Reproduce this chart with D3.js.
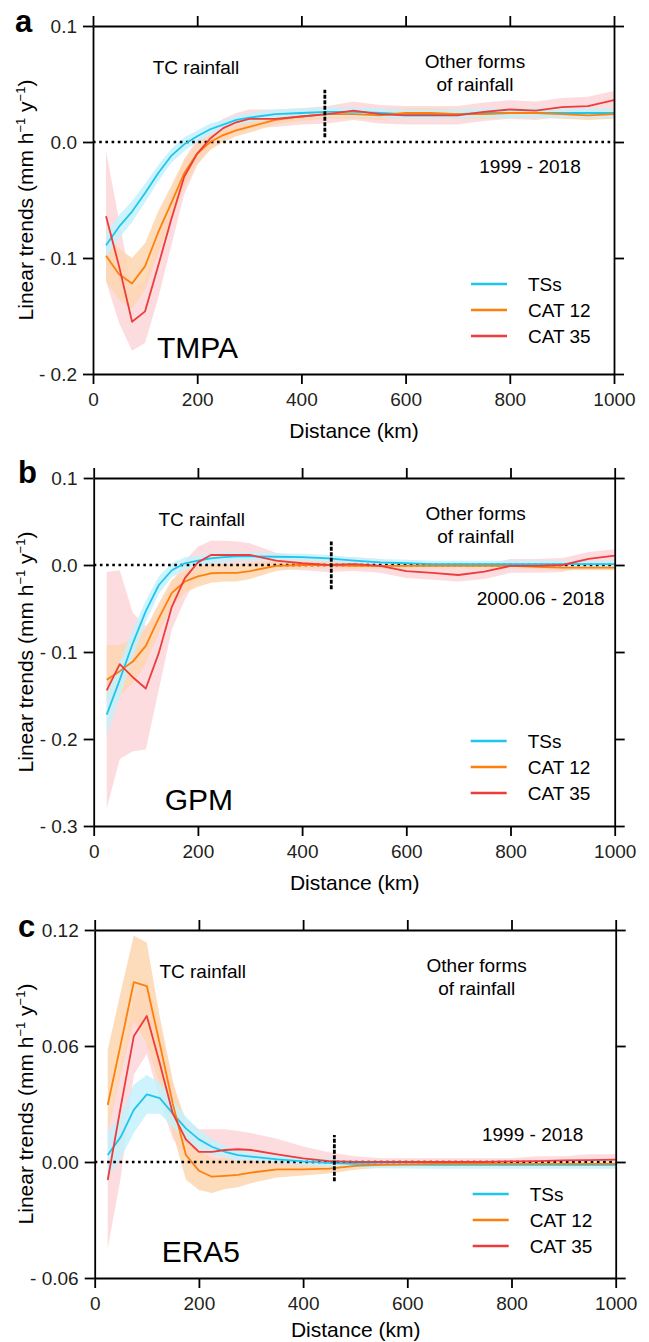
<!DOCTYPE html>
<html>
<head>
<meta charset="utf-8">
<script src="https://cdnjs.cloudflare.com/ajax/libs/d3/7.8.5/d3.min.js"></script>
<style>
  html, body { margin: 0; padding: 0; background: #fff; }
  svg { display: block; }
</style>
</head>
<body>
<svg id="chart" width="649" height="1342"></svg>
<script>
// ---------------- DATA ----------------
const distance = [25,50,75,100,125,150,175,200,225,250,275,300,350,400,450,500,550,600,650,700,750,800,850,900,950,1000];
const seriesNames = ["TSs", "CAT 12", "CAT 35"];
const xTicks = [0, 200, 400, 600, 800, 1000];

// Panel a: TMPA
const tmpaTicks = [0.1, 0.0, -0.1, -0.2];
const tmpaTickLabels = ["0.1", "0.0", "- 0.1", "- 0.2"];
const tmpaTS   = [-0.089,-0.073,-0.060,-0.044,-0.027,-0.012,-0.002,0.005,0.011,0.015,0.019,0.021,0.024,0.025,0.026,0.026,0.025,0.024,0.024,0.024,0.025,0.025,0.025,0.025,0.025,0.025];
const tmpaTSlo = [-0.100,-0.083,-0.069,-0.052,-0.034,-0.018,-0.008,0.000,0.006,0.011,0.015,0.017,0.020,0.021,0.022,0.022,0.021,0.020,0.020,0.020,0.021,0.021,0.021,0.021,0.021,0.021];
const tmpaTShi = [-0.078,-0.063,-0.051,-0.036,-0.020,-0.006,0.004,0.010,0.016,0.019,0.023,0.025,0.028,0.029,0.030,0.030,0.029,0.028,0.028,0.028,0.029,0.029,0.029,0.029,0.029,0.029];
const tmpaC12   = [-0.098,-0.114,-0.122,-0.107,-0.078,-0.053,-0.027,-0.010,0.000,0.006,0.010,0.013,0.019,0.022,0.024,0.024,0.023,0.025,0.025,0.024,0.024,0.025,0.025,0.024,0.023,0.024];
const tmpaC12lo = [-0.120,-0.136,-0.144,-0.127,-0.096,-0.068,-0.039,-0.019,-0.007,0.000,0.005,0.008,0.015,0.018,0.020,0.020,0.019,0.021,0.021,0.020,0.020,0.021,0.021,0.020,0.019,0.020];
const tmpaC12hi = [-0.076,-0.092,-0.100,-0.087,-0.060,-0.038,-0.015,-0.001,0.007,0.012,0.015,0.018,0.023,0.026,0.028,0.028,0.027,0.029,0.029,0.028,0.028,0.029,0.029,0.028,0.027,0.028];
const tmpaC35   = [-0.064,-0.107,-0.155,-0.146,-0.107,-0.067,-0.030,-0.010,0.003,0.012,0.017,0.020,0.020,0.022,0.024,0.027,0.024,0.023,0.023,0.023,0.026,0.028,0.027,0.030,0.031,0.036];
const tmpaC35lo = [-0.120,-0.156,-0.180,-0.173,-0.135,-0.090,-0.045,-0.020,-0.006,0.003,0.008,0.012,0.013,0.015,0.016,0.019,0.016,0.015,0.015,0.015,0.018,0.020,0.019,0.022,0.023,0.028];
const tmpaC35hi = [-0.008,-0.067,-0.127,-0.118,-0.080,-0.045,-0.015,0.003,0.013,0.020,0.025,0.028,0.028,0.029,0.031,0.035,0.032,0.031,0.031,0.031,0.034,0.036,0.035,0.038,0.039,0.044];
const tmpaErr = [445, 0.004, 0.045];

// Panel b: GPM
const gpmTicks = [0.1, 0.0, -0.1, -0.2, -0.3];
const gpmTickLabels = ["0.1", "0.0", "- 0.1", "- 0.2", "- 0.3"];
const gpmTS   = [-0.172,-0.132,-0.090,-0.053,-0.023,-0.006,0.002,0.005,0.0076,0.009,0.010,0.010,0.0095,0.009,0.0076,0.005,0.003,0.002,0.001,0.001,0.001,0.001,0.001,0.001,0.001,0.001];
const gpmTSlo = [-0.196,-0.152,-0.106,-0.065,-0.033,-0.014,-0.005,-0.001,0.0016,0.003,0.005,0.005,0.0055,0.005,0.0036,0.001,-0.001,-0.002,-0.003,-0.003,-0.003,-0.003,-0.003,-0.003,-0.003,-0.003];
const gpmTShi = [-0.148,-0.112,-0.074,-0.041,-0.013,0.002,0.009,0.011,0.0136,0.015,0.015,0.015,0.0135,0.013,0.0116,0.009,0.007,0.006,0.005,0.005,0.005,0.005,0.005,0.005,0.005,0.005];
const gpmC12   = [-0.132,-0.122,-0.111,-0.093,-0.061,-0.032,-0.019,-0.013,-0.0095,-0.009,-0.009,-0.007,-0.001,0.000,0.000,-0.001,-0.001,-0.001,-0.001,-0.001,-0.001,-0.001,-0.002,-0.003,-0.003,-0.003];
const gpmC12lo = [-0.158,-0.150,-0.136,-0.113,-0.078,-0.047,-0.032,-0.025,-0.0205,-0.019,-0.019,-0.016,-0.007,-0.004,-0.004,-0.004,-0.004,-0.004,-0.004,-0.004,-0.004,-0.004,-0.005,-0.006,-0.006,-0.006];
const gpmC12hi = [-0.092,-0.092,-0.086,-0.073,-0.044,-0.017,-0.006,-0.001,0.0015,0.001,0.001,0.002,0.005,0.004,0.004,0.002,0.002,0.002,0.002,0.002,0.002,0.002,0.001,0.000,0.000,0.000];
const gpmC35   = [-0.144,-0.114,-0.129,-0.142,-0.101,-0.048,-0.015,0.003,0.0115,0.0115,0.0115,0.0115,0.005,0.002,0.000,0.001,-0.001,-0.007,-0.009,-0.0115,-0.0076,-0.001,-0.001,0.000,0.007,0.0107];
const gpmC35lo = [-0.280,-0.223,-0.214,-0.212,-0.143,-0.074,-0.040,-0.012,-0.003,-0.002,-0.002,-0.002,-0.004,-0.006,-0.008,-0.007,-0.009,-0.015,-0.017,-0.019,-0.016,-0.009,-0.009,-0.008,-0.001,0.003];
const gpmC35hi = [-0.008,-0.006,-0.055,-0.070,-0.055,-0.020,0.005,0.021,0.028,0.028,0.027,0.025,0.014,0.010,0.008,0.009,0.007,0.001,-0.001,-0.004,0.000,0.007,0.007,0.008,0.015,0.018];
const gpmErr = [456, -0.028, 0.027];

// Panel c: ERA5
const eraTicks = [0.12, 0.06, 0.0, -0.06];
const eraTickLabels = ["0.12", "0.06", "0.00", "- 0.06"];
const eraTS   = [0.0036,0.013,0.027,0.035,0.033,0.025,0.0174,0.0117,0.0079,0.0053,0.0036,0.0028,0.0014,0.0003,-0.0005,-0.001,-0.0012,-0.0014,-0.0015,-0.0015,-0.0015,-0.0015,-0.0015,-0.0015,-0.0015,-0.0015];
const eraTSlo = [-0.0084,0.002,0.015,0.025,0.025,0.018,0.0114,0.0067,0.0039,0.0023,0.0006,0.0008,-0.0006,-0.0017,-0.0025,-0.003,-0.0032,-0.0034,-0.0035,-0.0035,-0.0035,-0.0035,-0.0035,-0.0035,-0.0035,-0.0035];
const eraTShi = [0.0156,0.024,0.040,0.045,0.041,0.032,0.0234,0.0167,0.0119,0.0083,0.0066,0.0048,0.0034,0.0023,0.0015,0.001,0.0008,0.0006,0.0005,0.0005,0.0005,0.0005,0.0005,0.0005,0.0005,0.0005];
const eraC12   = [0.0295,0.061,0.093,0.091,0.061,0.030,0.0036,-0.0045,-0.0076,-0.0072,-0.0067,-0.0055,-0.0038,-0.0038,-0.0034,-0.002,-0.0015,-0.0012,-0.001,-0.001,-0.001,-0.001,-0.001,-0.001,-0.001,-0.001];
const eraC12lo = [0.016,0.045,0.073,0.061,0.039,0.015,-0.009,-0.0145,-0.016,-0.014,-0.013,-0.011,-0.008,-0.007,-0.006,-0.004,-0.003,-0.002,-0.002,-0.002,-0.002,-0.002,-0.002,-0.002,-0.002,-0.002];
const eraC12hi = [0.058,0.088,0.117,0.1135,0.075,0.042,0.018,0.006,0.002,0.002,0.001,0.001,0.001,0.0005,0.000,0.000,0.000,0.000,0.000,0.000,0.000,0.000,0.000,0.000,0.000,0.000];
const eraC35   = [-0.0093,0.0286,0.065,0.0755,0.051,0.025,0.0117,0.0052,0.0052,0.0062,0.0066,0.0062,0.004,0.0019,0.0005,0.000,0.000,0.000,0.000,0.000,0.000,0.0003,0.0005,0.0008,0.001,0.0012];
const eraC35lo = [-0.0447,-0.008,0.045,0.056,0.032,0.012,0.002,-0.006,-0.006,-0.005,-0.004,-0.003,-0.003,-0.003,-0.003,-0.003,-0.002,-0.002,-0.002,-0.002,-0.002,-0.002,-0.002,-0.002,-0.002,-0.002];
const eraC35hi = [0.018,0.050,0.085,0.095,0.070,0.040,0.022,0.017,0.017,0.017,0.016,0.015,0.012,0.008,0.005,0.003,0.002,0.002,0.002,0.002,0.002,0.002,0.003,0.003,0.004,0.004];
const eraErr = [460, -0.010, 0.014];

// ---------------- STYLE / LAYOUT ----------------
const FONT = "'Liberation Sans', Arial, Helvetica, sans-serif";
const lineColors = ["#1ec6ee", "#ff7f0a", "#ef3b3b"];
const bandColors = ["#c4f1fb", "#fdd6b0", "#fcd6d8"];
const plotW = 521, plotH = 348;

const panels = [
  { letter: "a", name: "TMPA", period: "1999 - 2018", left: 93, top: 26,
    ydom: [-0.2, 0.1], ticks: tmpaTicks, tickLabels: tmpaTickLabels,
    series: [[tmpaTS, tmpaTSlo, tmpaTShi], [tmpaC12, tmpaC12lo, tmpaC12hi], [tmpaC35, tmpaC35lo, tmpaC35hi]],
    err: tmpaErr, tcX: 103, periodX: 437, periodDy: 147, legendDy: 258, legendX: 378, nameX: 64, letterX: 15, letterY: 32, titleDy: 64 },
  { letter: "b", name: "GPM", period: "2000.06 - 2018", left: 93.7, top: 478,
    ydom: [-0.3, 0.1], ticks: gpmTicks, tickLabels: gpmTickLabels,
    series: [[gpmTS, gpmTSlo, gpmTShi], [gpmC12, gpmC12lo, gpmC12hi], [gpmC35, gpmC35lo, gpmC35hi]],
    err: gpmErr, tcX: 108, periodX: 447, periodDy: 127, legendDy: 263, legendX: 377, nameX: 71, letterX: 18, letterY: 483, titleDy: 64 },
  { letter: "c", name: "ERA5", period: "1999 - 2018", left: 94.7, top: 930,
    ydom: [-0.06, 0.12], ticks: eraTicks, tickLabels: eraTickLabels,
    series: [[eraTS, eraTSlo, eraTShi], [eraC12, eraC12lo, eraC12hi], [eraC35, eraC35lo, eraC35hi]],
    err: eraErr, tcX: 108, periodX: 438, periodDy: 211, legendDy: 264, legendX: 378, nameX: 67, letterX: 18, letterY: 937, titleDy: 59 }
];

const svg = d3.select("#chart").style("font-family", FONT);

panels.forEach(p => {
  const x = d3.scaleLinear().domain([0, 1000]).range([p.left, p.left + plotW]);
  const y = d3.scaleLinear().domain(p.ydom).range([p.top + plotH, p.top]);
  const g = svg.append("g");

  // bands (red, orange, cyan)
  [2, 1, 0].forEach(k => {
    const [m, lo, hi] = p.series[k];
    const area = d3.area()
      .x((d, i) => x(distance[i]))
      .y0((d, i) => y(lo[i]))
      .y1((d, i) => y(hi[i]));
    g.append("path").datum(m).attr("d", area)
      .attr("fill", bandColors[k]).attr("fill-opacity", 0.85).attr("stroke", "none");
  });

  // zero dotted line
  g.append("line")
    .attr("x1", x(0)).attr("x2", x(1000))
    .attr("y1", y(0)).attr("y2", y(0))
    .attr("stroke", "#000").attr("stroke-width", 2.6)
    .attr("stroke-dasharray", "2.6,3.6");

  // lines
  [0, 1, 2].forEach(k => {
    const [m] = p.series[k];
    const line = d3.line().x((d, i) => x(distance[i])).y(d => y(d));
    g.append("path").datum(m).attr("d", line)
      .attr("fill", "none").attr("stroke", lineColors[k]).attr("stroke-width", 1.8)
      .attr("stroke-linejoin", "round");
  });

  // vertical dashed bar
  g.append("line")
    .attr("x1", x(p.err[0])).attr("x2", x(p.err[0]))
    .attr("y1", y(p.err[1])).attr("y2", y(p.err[2]))
    .attr("stroke", "#000").attr("stroke-width", 2.8)
    .attr("stroke-dasharray", "4,1.5");

  // axes
  const styleAxis = sel => {
    sel.select(".domain").attr("stroke-width", 1.8);
    sel.selectAll(".tick line").attr("stroke-width", 1.8);
    sel.selectAll("text").attr("font-family", FONT).attr("font-size", 19).attr("fill", "#231f20");
  };
  g.append("g").attr("transform", `translate(0,${p.top + plotH})`)
    .call(d3.axisBottom(x).tickValues(xTicks).tickSize(10).tickSizeOuter(0).tickPadding(9).tickFormat(d3.format("d")))
    .call(styleAxis);
  g.append("g").attr("transform", `translate(0,${p.top})`)
    .call(d3.axisTop(x).tickValues(xTicks).tickSize(10).tickSizeOuter(0).tickFormat(""))
    .call(styleAxis);
  g.append("g").attr("transform", `translate(${p.left},0)`)
    .call(d3.axisLeft(y).tickValues(p.ticks).tickSize(10).tickSizeOuter(0).tickPadding(6)
      .tickFormat((d, i) => p.tickLabels[i]))
    .call(styleAxis);
  g.append("g").attr("transform", `translate(${p.left + plotW},0)`)
    .call(d3.axisRight(y).tickValues(p.ticks).tickSize(10).tickSizeOuter(0).tickFormat(""))
    .call(styleAxis);

  // panel letter
  svg.append("text").attr("x", p.letterX).attr("y", p.letterY)
    .attr("font-size", 31).attr("font-weight", "bold").attr("fill", "#000").text(p.letter);

  // annotations
  const txt = (tx, ty, s, size, anchor) => svg.append("text")
    .attr("x", tx).attr("y", ty).attr("font-size", size)
    .attr("text-anchor", anchor || "middle").attr("fill", "#000").text(s);

  txt(p.left + p.tcX, p.top + 48, "TC rainfall", 19);
  txt(p.left + 382, p.top + 42, "Other forms", 19);
  txt(p.left + 382, p.top + 65, "of rainfall", 19);
  txt(p.left + p.periodX, p.top + p.periodDy, p.period, 19);
  txt(p.left + p.nameX, p.top + 332, p.name, 30, "start");

  // legend
  seriesNames.forEach((s, k) => {
    const ly = p.top + p.legendDy + k * 26;
    svg.append("line")
      .attr("x1", p.left + p.legendX).attr("x2", p.left + p.legendX + 36)
      .attr("y1", ly).attr("y2", ly)
      .attr("stroke", lineColors[k]).attr("stroke-width", 2.5);
    txt(p.left + p.legendX + 57, ly + 7, s, 19, "start");
  });

  // axis titles
  txt(p.left + 261, p.top + plotH + p.titleDy, "Distance (km)", 21);
  const yl = svg.append("text")
    .attr("transform", `translate(33,${p.top + plotH / 2}) rotate(-90)`)
    .attr("text-anchor", "middle").attr("font-size", 21).attr("fill", "#000");
  yl.append("tspan").text("Linear trends (mm h");
  yl.append("tspan").attr("font-size", 13).attr("dy", -8).text("\u22121");
  yl.append("tspan").attr("dy", 8).text(" y");
  yl.append("tspan").attr("font-size", 13).attr("dy", -8).text("\u22121");
  yl.append("tspan").attr("dy", 8).text(")");
});
</script>
</body>
</html>
